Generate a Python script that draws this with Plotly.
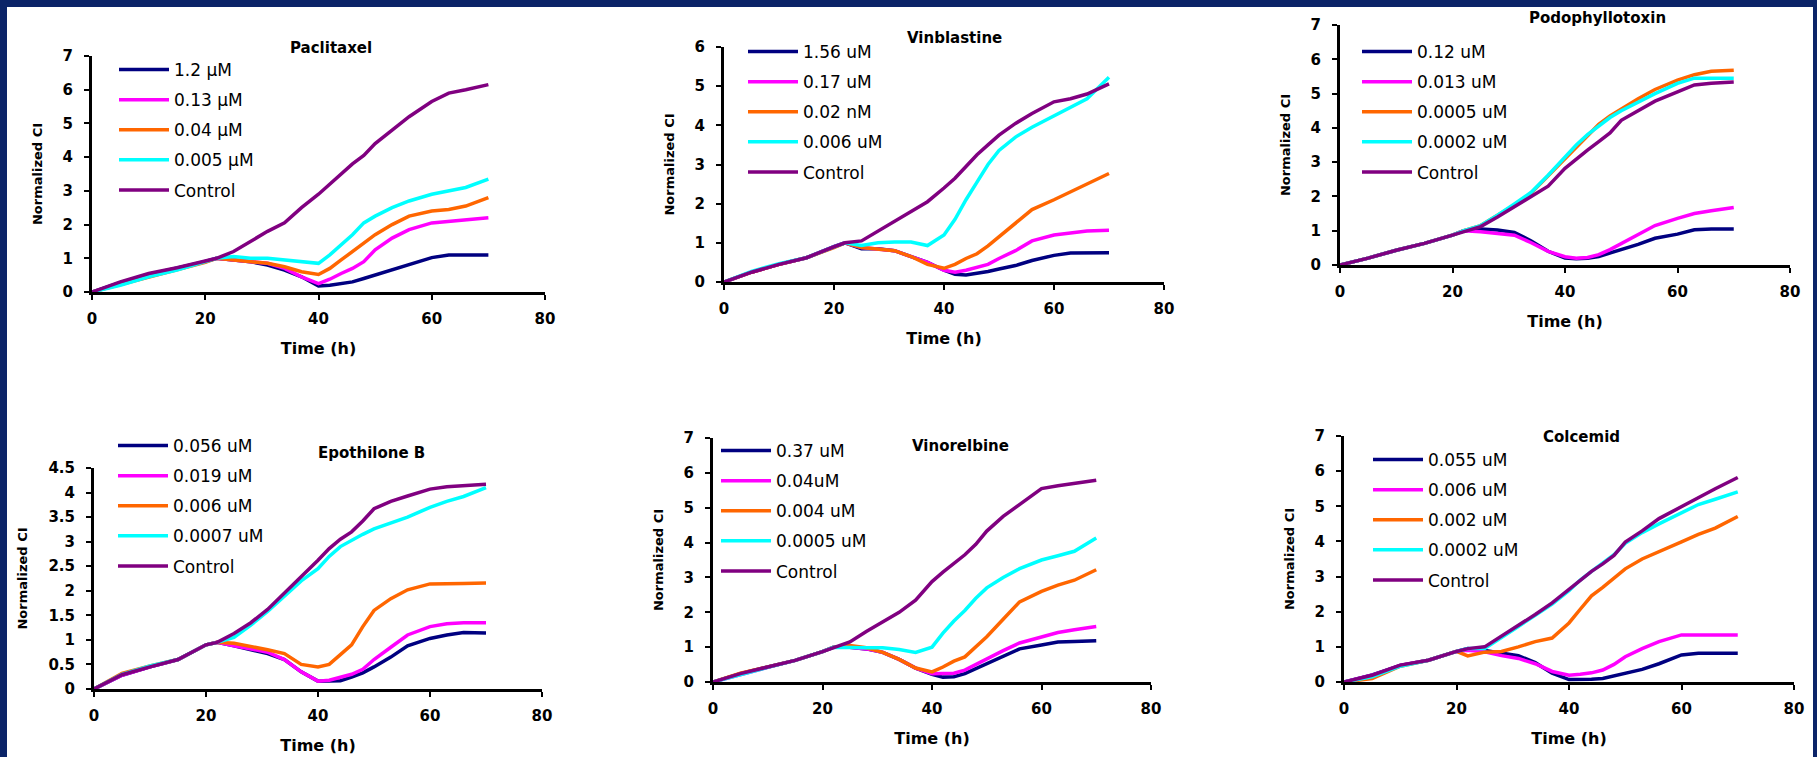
import plotly.graph_objects as go

W, H = 1817, 757

# ---------------- data ----------------
T = [0, 5, 10, 15, 20, 22, 25, 28, 31, 34, 37, 40, 42, 44, 46, 48, 50, 53, 56, 60, 63, 66, 70]

paclitaxel_labels = ["1.2 µM", "0.13 µM", "0.04 µM", "0.005 µM", "Control"]
paclitaxel_navy = [0, 0.28, 0.52, 0.70, 0.90, 1.00, 0.95, 0.90, 0.80, 0.65, 0.45, 0.18, 0.20, 0.25, 0.30, 0.40, 0.50, 0.65, 0.80, 1.02, 1.10, 1.10, 1.10]
paclitaxel_magenta = [0, 0.25, 0.48, 0.68, 0.90, 1.00, 0.95, 0.90, 0.85, 0.70, 0.45, 0.25, 0.38, 0.55, 0.70, 0.90, 1.25, 1.60, 1.85, 2.05, 2.10, 2.15, 2.20]
paclitaxel_orange = [0, 0.22, 0.45, 0.65, 0.88, 1.00, 0.95, 0.92, 0.85, 0.75, 0.60, 0.52, 0.70, 0.95, 1.20, 1.45, 1.70, 2.00, 2.25, 2.40, 2.45, 2.55, 2.80]
paclitaxel_cyan = [0, 0.20, 0.45, 0.65, 0.90, 1.00, 1.05, 1.00, 1.00, 0.95, 0.90, 0.85, 1.10, 1.40, 1.70, 2.05, 2.25, 2.50, 2.70, 2.90, 3.00, 3.10, 3.35]
paclitaxel_control = [0, 0.30, 0.55, 0.72, 0.92, 1.00, 1.20, 1.50, 1.80, 2.05, 2.50, 2.90, 3.20, 3.50, 3.80, 4.05, 4.40, 4.80, 5.20, 5.65, 5.90, 6.00, 6.15]

vinblastine_labels = ["1.56 uM", "0.17 uM", "0.02 nM", "0.006 uM", "Control"]
vinblastine_navy = [0, 0.25, 0.45, 0.62, 0.90, 1.00, 0.85, 0.85, 0.80, 0.65, 0.50, 0.30, 0.20, 0.18, 0.22, 0.27, 0.33, 0.42, 0.55, 0.68, 0.74, 0.74, 0.75]
vinblastine_magenta = [0, 0.25, 0.45, 0.62, 0.90, 1.00, 0.88, 0.85, 0.80, 0.65, 0.50, 0.30, 0.25, 0.30, 0.38, 0.45, 0.60, 0.80, 1.05, 1.20, 1.25, 1.30, 1.32]
vinblastine_orange = [0, 0.25, 0.45, 0.62, 0.88, 1.00, 0.88, 0.85, 0.80, 0.65, 0.45, 0.35, 0.45, 0.60, 0.72, 0.92, 1.15, 1.50, 1.85, 2.10, 2.30, 2.50, 2.77]
vinblastine_cyan = [0, 0.27, 0.47, 0.62, 0.90, 1.00, 0.93, 1.00, 1.02, 1.02, 0.93, 1.20, 1.60, 2.10, 2.55, 3.00, 3.36, 3.70, 3.95, 4.25, 4.45, 4.68, 5.23]
vinblastine_control = [0, 0.25, 0.45, 0.62, 0.90, 1.00, 1.05, 1.30, 1.55, 1.80, 2.05, 2.40, 2.65, 2.95, 3.25, 3.50, 3.75, 4.05, 4.30, 4.60, 4.68, 4.80, 5.06]

podophyllotoxin_labels = ["0.12 uM", "0.013 uM", "0.0005 uM", "0.0002 uM", "Control"]
podophyllotoxin_navy = [0, 0.20, 0.43, 0.63, 0.87, 1.00, 1.05, 1.02, 0.95, 0.70, 0.40, 0.20, 0.18, 0.20, 0.25, 0.35, 0.45, 0.60, 0.78, 0.90, 1.03, 1.05, 1.05]
podophyllotoxin_magenta = [0, 0.20, 0.43, 0.63, 0.87, 1.00, 0.97, 0.93, 0.87, 0.65, 0.40, 0.24, 0.20, 0.22, 0.30, 0.45, 0.63, 0.90, 1.15, 1.36, 1.50, 1.58, 1.68]
podophyllotoxin_orange = [0, 0.20, 0.43, 0.63, 0.87, 1.00, 1.15, 1.45, 1.75, 2.10, 2.60, 3.10, 3.45, 3.80, 4.10, 4.35, 4.56, 4.85, 5.12, 5.39, 5.55, 5.65, 5.68]
podophyllotoxin_cyan = [0, 0.20, 0.43, 0.63, 0.87, 1.00, 1.15, 1.45, 1.78, 2.12, 2.62, 3.15, 3.50, 3.80, 4.05, 4.30, 4.50, 4.75, 5.00, 5.30, 5.45, 5.45, 5.45]
podophyllotoxin_control = [0, 0.20, 0.43, 0.63, 0.87, 0.97, 1.12, 1.40, 1.70, 2.00, 2.30, 2.82, 3.10, 3.35, 3.60, 3.85, 4.22, 4.50, 4.78, 5.05, 5.25, 5.30, 5.34]

epothilone_labels = ["0.056 uM", "0.019 uM", "0.006 uM", "0.0007 uM", "Control"]
epothilone_navy = [0, 0.28, 0.45, 0.60, 0.90, 0.95, 0.88, 0.80, 0.72, 0.60, 0.35, 0.16, 0.16, 0.17, 0.24, 0.33, 0.45, 0.65, 0.88, 1.03, 1.10, 1.15, 1.14]
epothilone_magenta = [0, 0.28, 0.45, 0.60, 0.90, 0.95, 0.88, 0.82, 0.75, 0.60, 0.35, 0.16, 0.18, 0.24, 0.30, 0.40, 0.60, 0.85, 1.10, 1.27, 1.33, 1.35, 1.35]
epothilone_orange = [0, 0.32, 0.47, 0.60, 0.90, 0.95, 0.93, 0.87, 0.80, 0.72, 0.50, 0.45, 0.50, 0.70, 0.90, 1.27, 1.60, 1.84, 2.02, 2.14, 2.14, 2.15, 2.16]
epothilone_cyan = [0, 0.30, 0.47, 0.60, 0.90, 0.95, 1.05, 1.30, 1.58, 1.90, 2.20, 2.45, 2.70, 2.90, 3.03, 3.15, 3.26, 3.38, 3.50, 3.70, 3.82, 3.92, 4.10]
epothilone_control = [0, 0.29, 0.45, 0.60, 0.90, 0.95, 1.13, 1.35, 1.62, 1.95, 2.30, 2.62, 2.86, 3.05, 3.20, 3.42, 3.67, 3.82, 3.93, 4.07, 4.12, 4.14, 4.17]

vinorelbine_labels = ["0.37 uM", "0.04uM", "0.004 uM", "0.0005 uM", "Control"]
vinorelbine_navy = [0, 0.24, 0.43, 0.62, 0.87, 1.00, 1.00, 0.95, 0.85, 0.65, 0.40, 0.22, 0.14, 0.15, 0.24, 0.38, 0.53, 0.75, 0.95, 1.06, 1.15, 1.16, 1.18]
vinorelbine_magenta = [0, 0.22, 0.42, 0.62, 0.87, 1.00, 1.00, 0.95, 0.85, 0.65, 0.40, 0.24, 0.24, 0.25, 0.34, 0.50, 0.67, 0.90, 1.12, 1.30, 1.42, 1.50, 1.59]
vinorelbine_orange = [0, 0.25, 0.43, 0.62, 0.87, 1.00, 1.05, 0.98, 0.85, 0.65, 0.40, 0.29, 0.43, 0.60, 0.72, 1.00, 1.30, 1.80, 2.30, 2.60, 2.78, 2.92, 3.22]
vinorelbine_cyan = [0, 0.22, 0.42, 0.62, 0.87, 1.00, 0.98, 0.98, 0.98, 0.93, 0.85, 1.00, 1.40, 1.75, 2.05, 2.40, 2.70, 3.00, 3.25, 3.50, 3.62, 3.75, 4.13]
vinorelbine_control = [0, 0.24, 0.43, 0.62, 0.87, 0.98, 1.15, 1.45, 1.72, 2.00, 2.35, 2.88, 3.15, 3.40, 3.65, 3.95, 4.33, 4.75, 5.10, 5.55, 5.63, 5.70, 5.79]

colcemid_labels = ["0.055 uM", "0.006 uM", "0.002 uM", "0.0002 uM", "Control"]
colcemid_navy = [0, 0.20, 0.47, 0.62, 0.87, 0.95, 0.90, 0.82, 0.75, 0.55, 0.25, 0.07, 0.07, 0.08, 0.10, 0.17, 0.24, 0.36, 0.52, 0.77, 0.82, 0.82, 0.82]
colcemid_magenta = [0, 0.19, 0.47, 0.62, 0.87, 0.90, 0.86, 0.75, 0.67, 0.52, 0.30, 0.19, 0.22, 0.26, 0.34, 0.50, 0.72, 0.95, 1.15, 1.34, 1.34, 1.34, 1.34]
colcemid_orange = [0, 0.10, 0.45, 0.62, 0.87, 0.74, 0.85, 0.87, 1.00, 1.15, 1.25, 1.68, 2.07, 2.45, 2.69, 2.95, 3.22, 3.50, 3.70, 3.99, 4.20, 4.38, 4.71]
colcemid_cyan = [0, 0.15, 0.45, 0.62, 0.87, 0.95, 0.95, 1.28, 1.58, 1.90, 2.22, 2.60, 2.90, 3.15, 3.40, 3.62, 3.95, 4.25, 4.50, 4.80, 5.05, 5.20, 5.41]
colcemid_control = [0, 0.19, 0.48, 0.62, 0.87, 0.95, 1.00, 1.30, 1.60, 1.92, 2.25, 2.63, 2.90, 3.15, 3.36, 3.60, 3.98, 4.30, 4.65, 5.00, 5.25, 5.50, 5.82]

series_colors = ["#000080", "#FF00FF", "#FF6600", "#00FFFF", "#800080"]

# ---------------- layout helpers (pixel -> paper) ----------------
def px(x):
    return x / W


def py(y):
    return 1 - y / H


panels = [
    dict(title="Paclitaxel", labels=paclitaxel_labels,
         series=[paclitaxel_navy, paclitaxel_magenta, paclitaxel_orange, paclitaxel_cyan, paclitaxel_control],
         ymax=7, dtick=1, box=(92, 545, 292, 56), ttl=(331, 48), leg=(122, 70)),
    dict(title="Vinblastine", labels=vinblastine_labels,
         series=[vinblastine_navy, vinblastine_magenta, vinblastine_orange, vinblastine_cyan, vinblastine_control],
         ymax=6, dtick=1, box=(724, 1164, 282, 47), ttl=(954, 38), leg=(751, 52)),
    dict(title="Podophyllotoxin", labels=podophyllotoxin_labels,
         series=[podophyllotoxin_navy, podophyllotoxin_magenta, podophyllotoxin_orange, podophyllotoxin_cyan, podophyllotoxin_control],
         ymax=7, dtick=1, box=(1340, 1790, 265, 25), ttl=(1597, 18), leg=(1365, 52)),
    dict(title="Epothilone B", labels=epothilone_labels,
         series=[epothilone_navy, epothilone_magenta, epothilone_orange, epothilone_cyan, epothilone_control],
         ymax=4.5, dtick=0.5, box=(94, 542, 689, 468), ttl=(371, 453), leg=(121, 446)),
    dict(title="Vinorelbine", labels=vinorelbine_labels,
         series=[vinorelbine_navy, vinorelbine_magenta, vinorelbine_orange, vinorelbine_cyan, vinorelbine_control],
         ymax=7, dtick=1, box=(713, 1151, 682, 438), ttl=(960, 446), leg=(724, 451)),
    dict(title="Colcemid", labels=colcemid_labels,
         series=[colcemid_navy, colcemid_magenta, colcemid_orange, colcemid_cyan, colcemid_control],
         ymax=7, dtick=1, box=(1344, 1794, 682, 436), ttl=(1581, 437), leg=(1376, 460)),
]

BORDER = "#0b2468"
tick_font = dict(family="DejaVu Sans", size=15, color="black", weight="bold")
fig = go.Figure()

layout = dict(
    width=W, height=H,
    margin=dict(l=0, r=0, t=0, b=0, pad=0, autoexpand=False),
    paper_bgcolor=BORDER,
    plot_bgcolor="white",
    showlegend=True,
    annotations=[],
    shapes=[dict(type="rect", xref="paper", yref="paper", x0=px(7), x1=px(1813), y0=0, y1=py(7),
                 fillcolor="white", line=dict(width=0), layer="below")],
)

for i, p in enumerate(panels):
    n = i + 1
    xa = "x" if n == 1 else f"x{n}"
    ya = "y" if n == 1 else f"y{n}"
    leg = f"legend{n + 1}"
    x0, x1, yb, yt = p["box"]
    for k, (name, vals) in enumerate(zip(p["labels"], p["series"])):
        fig.add_trace(go.Scatter(
            x=T, y=vals, mode="lines", name=name,
            line=dict(color=series_colors[k], width=3.5),
            xaxis=xa, yaxis=ya, legend=leg, legendgroup=f"{n}-{k}",
        ))
    common = dict(showline=True, linewidth=3, linecolor="black", showgrid=False, zeroline=False,
                  ticks="outside", ticklen=5, tickwidth=2, tickcolor="black", tickfont=tick_font,
                  automargin=False)
    layout["xaxis" if n == 1 else f"xaxis{n}"] = dict(
        common, domain=[px(x0), px(x1)], range=[0, 80], dtick=20, tick0=0,
        anchor=ya, ticklabelstandoff=6,
        title=dict(text="Time (h)", font=dict(family="DejaVu Sans", size=16, color="black", weight="bold"),
                   standoff=16),
    )
    layout["yaxis" if n == 1 else f"yaxis{n}"] = dict(
        common, domain=[py(yb), py(yt)], range=[0, p["ymax"]], dtick=p["dtick"], tick0=0,
        anchor=xa, ticklabelstandoff=8,
        title=dict(text="Normalized CI", font=dict(family="DejaVu Sans", size=13, color="black", weight="bold"),
                   standoff=18),
    )
    lx, ly = p["leg"]
    layout[leg] = dict(
        x=px(lx - 8), y=py(ly - 18), xanchor="left", yanchor="top",
        bgcolor="rgba(0,0,0,0)", borderwidth=0,
        font=dict(family="DejaVu Sans", size=17, color="black"),
        itemwidth=50, traceorder="grouped", tracegroupgap=5,
    )
    layout["annotations"].append(dict(
        text=p["title"], x=px(p["ttl"][0]), y=py(p["ttl"][1]), xref="paper", yref="paper",
        showarrow=False, xanchor="center", yanchor="middle",
        font=dict(family="DejaVu Sans", size=15, color="black", weight="bold"),
    ))

fig.update_layout(**layout)
# place the figure flush with the window's corner (no default page margin)
fig.write_html("out.html", config={"displayModeBar": False},
               post_script="document.body.style.margin='0px';")
